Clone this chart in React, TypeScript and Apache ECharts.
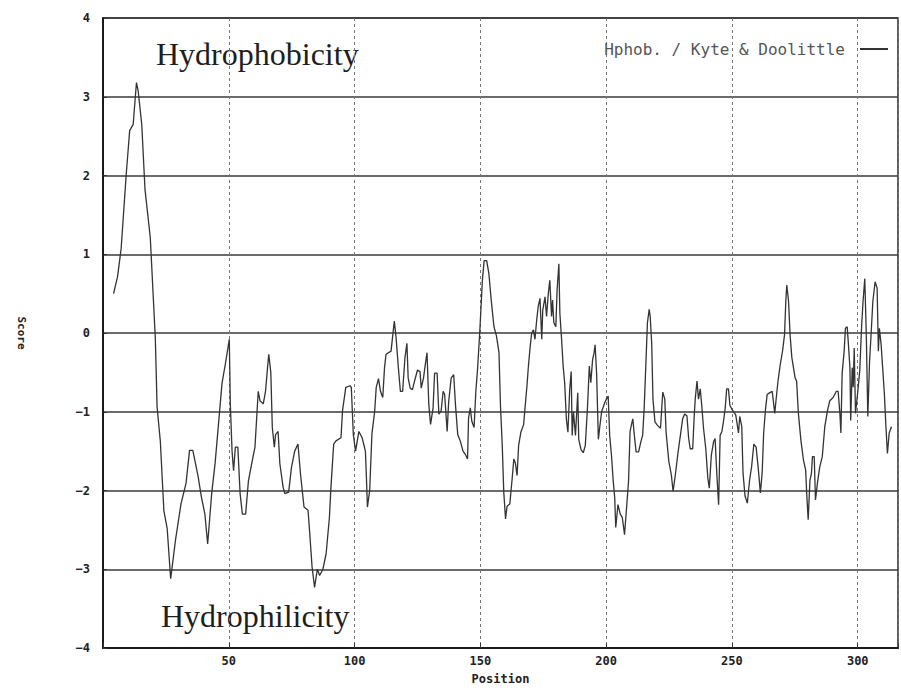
import React, { useEffect, useRef } from "react";
import * as echarts from "echarts";

// Kyte & Doolittle hydrophobicity trace
const positions: number[] = [
  4.2, 5.8, 7.2, 9.2, 10.6, 12.0, 13.3, 14.0, 15.4, 16.7, 18.8, 20.8, 21.5, 22.8, 24.2, 25.5, 26.9,
  28.9, 31.0, 33.0, 34.4, 35.7, 37.8, 39.1, 40.5, 41.6, 43.2, 44.6, 45.9, 47.3, 48.6, 50.2,
  50.6, 51.3, 51.9, 52.6, 53.6, 54.5, 55.4, 56.7, 57.8, 59.1, 60.4, 61.1, 61.7, 62.4, 63.7, 64.6,
  65.4, 65.9, 66.7, 67.3, 68.1, 68.6, 69.6, 70.3, 71.6, 72.3, 73.8, 74.9, 76.2, 77.5, 78.5, 79.9,
  81.5, 82.1, 83.1, 84.1, 85.2, 86.1, 87.4, 88.7, 90.0, 90.6, 91.7, 92.6, 94.6, 95.2, 96.5, 98.2,
  98.7, 99.5, 100.4, 101.7, 103.0, 104.3, 104.7, 105.1, 106.0, 106.9, 108.0, 108.6, 109.5, 110.3,
  111.2, 111.9, 112.5, 114.5, 115.2, 115.8, 116.5, 117.4, 118.2, 119.1, 120.0, 120.8, 121.3, 122.1,
  123.0, 124.0, 125.0, 126.0, 126.5, 127.4, 128.2, 128.8, 129.5, 130.2, 131.2, 131.8, 132.8, 133.5,
  134.4, 135.2, 135.8, 136.8, 137.4, 138.4, 139.4, 140.1, 141.0, 142.0, 143.1, 144.0, 144.9, 145.3,
  146.0, 146.6, 147.5, 148.2, 148.9, 149.8, 150.8, 151.5, 152.5, 153.4, 154.3, 155.4, 156.4, 157.4,
  158.0, 158.7, 159.3, 160.0, 160.6, 161.7, 162.6, 163.3, 163.9, 164.6, 165.2, 166.1, 167.2, 167.8,
  168.5, 169.1, 169.8, 170.4, 171.1, 171.7, 172.4, 173.0, 173.7, 174.4, 174.8, 175.7, 176.3, 177.0,
  177.6, 178.3, 178.7, 179.2, 180.0, 180.5, 181.2, 181.6, 182.2, 182.9, 183.5, 184.2, 184.8, 185.5,
  186.1, 186.5, 187.0, 187.8, 188.7, 189.1, 190.0, 190.9, 191.7, 192.6, 193.3, 193.9, 194.6, 195.2,
  195.6, 196.2, 196.9, 197.5, 198.2, 199.5, 200.1, 200.8, 201.4, 202.1, 202.8, 203.4, 203.8, 204.7,
  205.6, 206.4, 207.3, 208.2, 208.9, 209.5, 210.3, 210.6, 211.2, 211.9, 212.9, 213.8, 214.5, 215.1,
  215.8, 216.4, 217.1, 217.5, 218.1, 218.6, 219.4, 220.3, 221.6, 222.5, 223.3, 223.8, 224.9, 225.9,
  226.6, 227.5, 228.6, 229.5, 230.4, 231.2, 232.1, 232.8, 233.4, 234.4, 235.0, 235.4, 236.1, 236.7,
  237.4, 238.0, 238.7, 239.6, 240.4, 241.0, 241.8, 242.7, 243.3, 244.0, 244.7, 245.3, 246.0, 246.6,
  247.3, 247.9, 248.6, 249.2, 250.2, 251.5, 252.6, 253.1, 253.9, 254.4, 255.2, 256.1, 257.0, 257.8,
  258.7, 259.6, 260.4, 261.3, 262.0, 262.6, 263.3, 264.0, 264.9, 266.0, 267.0, 267.5, 268.3, 269.2,
  270.1, 270.9, 271.4, 271.8, 272.5, 273.1, 273.8, 275.1, 275.7, 276.4, 277.4, 278.4, 279.3, 279.7,
  280.3, 281.0, 281.6, 282.0, 282.7, 283.2, 284.0, 284.9, 285.9, 286.9, 288.0, 288.9, 290.2, 291.5,
  292.2, 292.9, 293.3, 293.8, 294.6, 295.1, 295.8, 296.2, 296.9, 297.2, 297.8, 298.2, 298.6, 299.1,
  299.9, 300.8, 301.5, 302.1, 302.8, 303.4, 304.0, 304.7, 305.3, 306.0, 306.9, 307.7, 308.2, 308.6,
  309.3, 309.9, 310.6, 311.2, 311.8, 312.5, 313.4,
];

const scores: number[] = [
  0.5, 0.72, 1.07, 2.0, 2.57, 2.65, 3.18, 3.07, 2.65, 1.82, 1.21, -0.07, -0.94, -1.38, -2.26, -2.48, -3.12,
  -2.61, -2.17, -1.91, -1.49, -1.49, -1.82, -2.08, -2.3, -2.68, -2.04, -1.64, -1.16, -0.64, -0.4, -0.08,
  -0.9, -1.5, -1.75, -1.45, -1.45, -2.04, -2.3, -2.3, -1.88, -1.66, -1.45, -1.07, -0.74, -0.86, -0.9, -0.74,
  -0.44, -0.27, -0.5, -1.2, -1.45, -1.29, -1.25, -1.66, -1.96, -2.04, -2.02, -1.71, -1.5, -1.41, -1.79, -2.21,
  -2.25, -2.51, -2.97, -3.23, -3.0, -3.08, -3.0, -2.8, -2.34, -1.96, -1.41, -1.37, -1.33, -0.99, -0.69, -0.67,
  -0.69, -1.29, -1.5, -1.25, -1.33, -1.5, -1.83, -2.21, -2.0, -1.28, -0.99, -0.69, -0.58, -0.74,
  -0.82, -0.44, -0.27, -0.23, -0.02, 0.15, -0.06, -0.44, -0.74, -0.74, -0.32, -0.13, -0.57, -0.7,
  -0.72, -0.59, -0.47, -0.49, -0.7, -0.57, -0.38, -0.25, -0.91, -1.16, -0.95, -0.51, -0.51, -1.03,
  -0.99, -0.74, -0.78, -1.25, -0.87, -0.57, -0.53, -0.91, -1.29, -1.37, -1.5, -1.54, -1.6, -1.08,
  -0.95, -1.12, -1.2, -0.74, -0.45, 0.04, 0.67, 0.92, 0.92, 0.75, 0.42, 0.08, -0.04, -0.25,
  -0.93, -1.43, -2.02, -2.36, -2.2, -2.17, -1.86, -1.6, -1.65, -1.81, -1.43, -1.26, -1.16, -0.93,
  -0.68, -0.42, -0.17, 0.0, 0.04, -0.08, 0.17, 0.34, 0.44, -0.08, 0.29, 0.46, 0.21, 0.5,
  0.67, 0.21, 0.42, 0.13, 0.08, 0.55, 0.88, 0.25, -0.04, -0.42, -0.63, -1.1, -1.26, -0.72,
  -0.49, -1.3, -1.0, -1.3, -0.76, -1.35, -1.48, -1.52, -1.43, -0.93, -0.42, -0.63, -0.34, -0.25,
  -0.15, -0.51, -1.35, -1.18, -1.0, -0.88, -0.84, -0.8, -1.3, -1.55, -1.88, -2.09, -2.47, -2.18,
  -2.3, -2.34, -2.56, -2.18, -1.88, -1.25, -1.13, -1.09, -1.3, -1.51, -1.51, -1.38, -1.3, -0.96,
  -0.38, 0.13, 0.3, 0.21, -0.13, -0.84, -1.13, -1.17, -1.21, -0.75, -0.84, -1.25, -1.63, -1.8,
  -2.01, -1.8, -1.51, -1.3, -1.09, -1.03, -1.05, -1.34, -1.47, -1.47, -1.05, -0.84, -0.61, -0.84,
  -0.71, -0.92, -1.21, -1.47, -1.84, -1.97, -1.55, -1.38, -1.34, -1.8, -2.18, -1.3, -1.25, -1.13,
  -0.96, -0.71, -0.71, -0.92, -0.98, -1.04, -1.27, -1.06, -1.19, -1.78, -2.07, -2.16, -1.87, -1.7,
  -1.41, -1.45, -1.7, -2.03, -1.78, -1.27, -0.98, -0.78, -0.76, -0.74, -1.02, -0.86, -0.61, -0.4,
  -0.23, -0.02, 0.4, 0.61, 0.4, -0.02, -0.31, -0.57, -0.61, -1.02, -1.36, -1.61, -1.74, -2.03,
  -2.37, -1.87, -1.78, -1.57, -1.57, -2.12, -1.9, -1.7, -1.57, -1.19, -0.98, -0.86, -0.82, -0.74,
  -0.74, -1.02, -1.27, -0.51, -0.23, 0.06, 0.08, -0.1, -0.44, -1.11, -0.44, -0.69, -0.19, -1.02,
  -0.78, -0.48, 0.06, 0.4, 0.69, -0.02, -1.06, -0.36, -0.02, 0.4, 0.65, 0.57, -0.23, 0.06,
  -0.15, -0.44, -0.78, -1.19, -1.53, -1.27, -1.19,
];

const xTicks: number[] = [50, 100, 150, 200, 250, 300];
const seriesName = "Hphob. / Kyte & Doolittle";
const upperNote = "Hydrophobicity";
const lowerNote = "Hydrophilicity";

const MONO = "'DejaVu Sans Mono', 'Liberation Mono', monospace";
const SERIF = "'Liberation Serif', 'DejaVu Serif', serif";

export default function App() {
  const ref = useRef<HTMLDivElement>(null);

  useEffect(() => {
    if (!ref.current) return;
    const chart = echarts.init(ref.current, undefined, { renderer: "svg" });
    const data = positions.map((p, i) => [p, scores[i]]);

    chart.setOption({
      animation: false,
      backgroundColor: "#ffffff",
      grid: {
        left: 103,
        right: -4,
        top: 18,
        bottom: 41,
        show: true,
        borderColor: "#2a2a2a",
        borderWidth: 1.5,
      },
      legend: {
        data: [seriesName],
        right: 8,
        top: 36,
        align: "right",
        icon: "rect",
        itemWidth: 28,
        itemHeight: 2,
        itemStyle: { color: "#333333" },
        textStyle: {
          fontFamily: MONO,
          fontSize: 16,
          color: "#555",
          padding: [0, 10, 0, 0],
        },
      },
      xAxis: {
        type: "value",
        min: 0,
        max: 316,
        interval: 50,
        name: "Position",
        nameLocation: "middle",
        nameGap: 25,
        nameTextStyle: {
          fontFamily: MONO,
          fontWeight: "bold",
          fontSize: 12,
          color: "#222",
        },
        axisLine: { show: true, onZero: false, lineStyle: { color: "#1a1a1a", width: 2 } },
        axisTick: { show: true, inside: true, length: 5, lineStyle: { color: "#333" } },
        axisLabel: {
          margin: 7,
          fontFamily: MONO,
          fontWeight: "bold",
          fontSize: 12,
          color: "#222",
          formatter: (v: number) => (xTicks.includes(v) ? String(v) : ""),
        },
        splitLine: {
          show: true,
          lineStyle: { color: "#777", width: 1, type: [3, 3] },
        },
      },
      yAxis: {
        type: "value",
        min: -4,
        max: 4,
        interval: 1,
        name: "Score",
        nameLocation: "middle",
        nameGap: 76,
        nameRotate: -90,
        nameTextStyle: {
          fontFamily: MONO,
          fontWeight: "bold",
          fontSize: 11,
          color: "#222",
        },
        axisLine: { show: true, lineStyle: { color: "#1a1a1a", width: 2 } },
        axisTick: { show: true, inside: true, length: 4, lineStyle: { color: "#333" } },
        axisLabel: {
          margin: 13,
          fontFamily: MONO,
          fontWeight: "bold",
          fontSize: 12,
          color: "#222",
          formatter: (v: number) => (v < 0 ? "\u2212" + Math.abs(v) : String(v)),
        },
        splitLine: {
          show: true,
          lineStyle: { color: "#3a3a3a", width: 1.5 },
        },
      },
      graphic: [
        {
          type: "text",
          left: 156,
          top: 38,
          silent: true,
          style: {
            text: upperNote,
            font: `32px ${SERIF}`,
            fill: "#1e1e1e",
          },
        },
        {
          type: "text",
          left: 161,
          top: 600,
          silent: true,
          style: {
            text: lowerNote,
            font: `32px ${SERIF}`,
            fill: "#1e1e1e",
          },
        },
      ],
      series: [
        {
          name: seriesName,
          type: "line",
          data,
          showSymbol: false,
          symbol: "none",
          lineStyle: { color: "#333333", width: 1.3 },
          itemStyle: { color: "#333333" },
        },
      ],
    });

    return () => chart.dispose();
  }, []);

  return (
    <div
      ref={ref}
      style={{ position: "absolute", left: 0, top: 0, width: 901, height: 690 }}
    />
  );
}
